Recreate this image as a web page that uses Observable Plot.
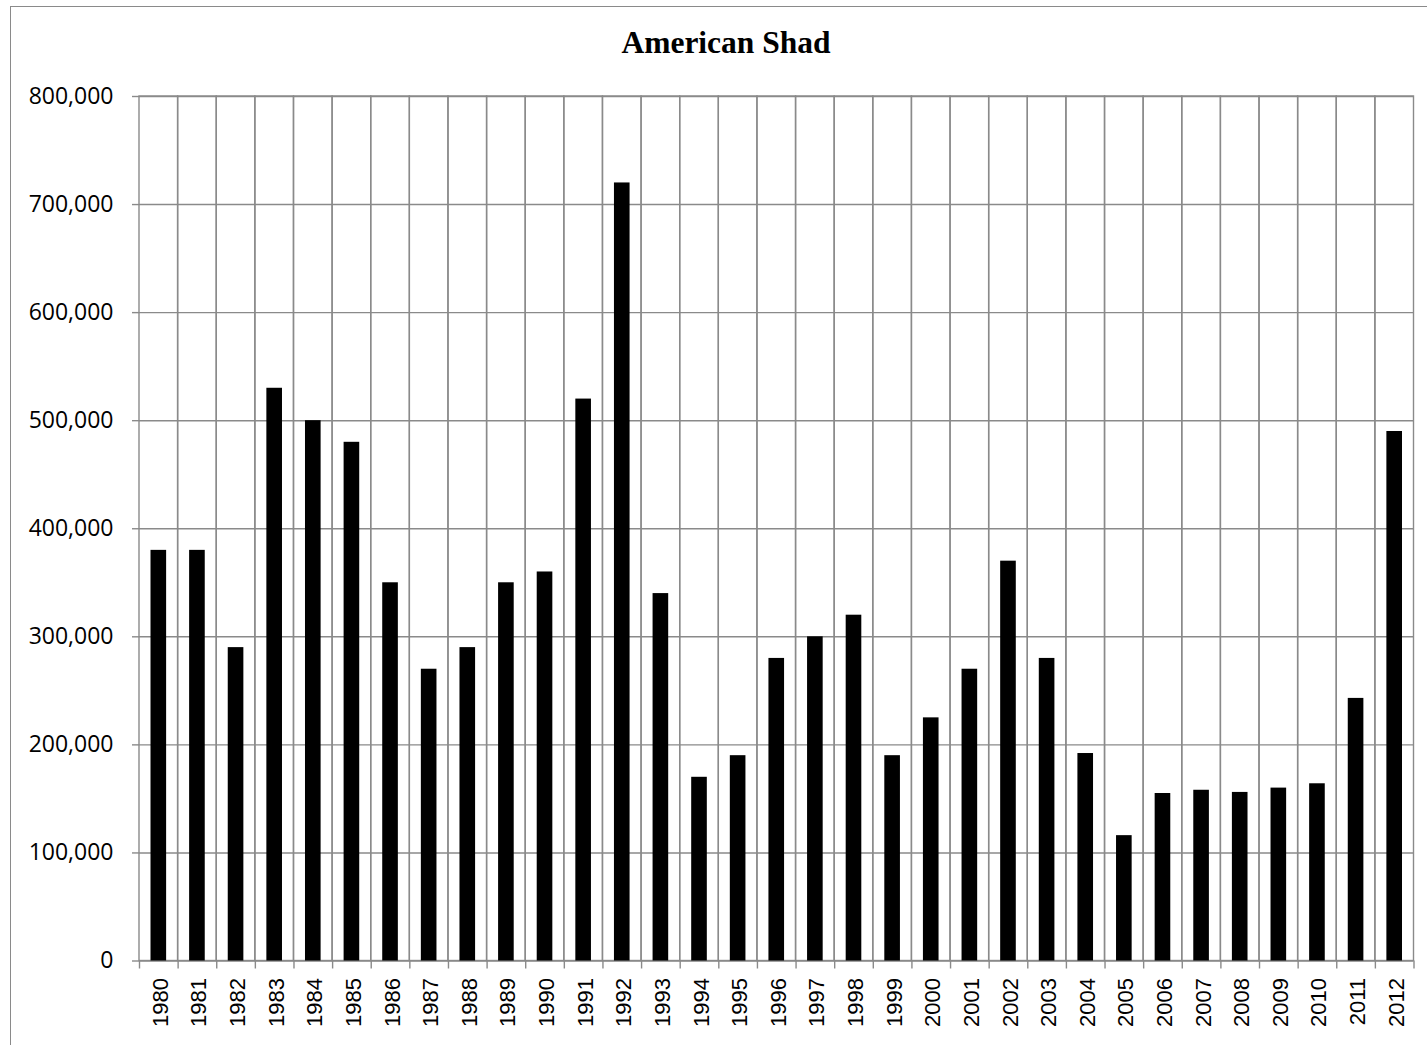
<!DOCTYPE html>
<html>
<head>
<meta charset="utf-8">
<script src="https://cdn.jsdelivr.net/npm/d3@7"></script>
<script src="https://cdn.jsdelivr.net/npm/@observablehq/plot@0.6"></script>
<style>
  html, body { margin: 0; padding: 0; background: #fff; overflow: hidden; }
  #wrap { position: relative; width: 1427px; height: 1045px; overflow: hidden; }
  #border { position: absolute; left: 10px; top: 6px; width: 3000px; height: 3000px;
            border-left: 1.5px solid #8a8a8a; border-top: 1.5px solid #8a8a8a; }
  #title { position: absolute; left: 0; top: 25px; width: 1452px; text-align: center;
           font-family: "Liberation Serif", "Times New Roman", serif; font-weight: bold;
           font-size: 31.5px; line-height: 36px; color: #000; }
  #chart { position: absolute; left: 0; top: 0; }
</style>
</head>
<body>
<div id="wrap">
  <div id="border"></div>
  <div id="title">American Shad</div>
  <div id="chart"></div>
</div>
<script>
const years = ["1980","1981","1982","1983","1984","1985","1986","1987","1988","1989","1990",
  "1991","1992","1993","1994","1995","1996","1997","1998","1999","2000","2001","2002","2003",
  "2004","2005","2006","2007","2008","2009","2010","2011","2012"];
const values = [380000,380000,290000,530000,500000,480000,350000,270000,290000,350000,360000,
  520000,720000,340000,170000,190000,280000,300000,320000,190000,225000,270000,370000,280000,
  192000,116000,155000,158000,156000,160000,164000,243000,490000];
const yTicks = [0,100000,200000,300000,400000,500000,600000,700000,800000];
const yMax = 800000;

const data = years.map((y, i) => ({year: y, value: values[i]}));

const W = 1427, H = 1045, mL = 139, mR = 13.5, mT = 96, mB = 84.5;
const bw = (W - mL - mR) / years.length;
const grid = "#8a8a8a";

const chart = Plot.plot({
  width: W, height: H,
  marginLeft: mL, marginRight: mR, marginTop: mT, marginBottom: mB,
  style: {background: "transparent", color: "#000"},
  x: {type: "band", domain: years, padding: 0, round: false, axis: null, label: null},
  y: {domain: [0, yMax], axis: null, label: null},
  marks: [
    // horizontal gridlines
    Plot.ruleY(yTicks, {y: d => d, stroke: grid, strokeWidth: 1.4, strokeOpacity: 1}),
    // vertical gridlines at category boundaries (cell outlines)
    Plot.barY(years, {x: d => d, y1: () => 0, y2: () => yMax, fill: "none", stroke: grid, strokeWidth: 1.4}),
    // y axis ticks + labels
    Plot.axisY(yTicks, {tickSize: 7, tickPadding: 19, stroke: grid, strokeWidth: 1.4, label: null,
      tickFormat: d3.format(","), fontSize: 23, fontFamily: "'Open Sans', sans-serif", fill: "#000"}),
    // x axis boundary ticks
    Plot.axisX(years, {tickSize: 8, tickFormat: () => "", dx: -bw / 2, stroke: grid, strokeWidth: 1.4, label: null}),
    Plot.axisX([years[years.length - 1]], {tickSize: 8, tickFormat: () => "", dx: bw / 2, stroke: grid, strokeWidth: 1.4, label: null}),
    // x labels
    Plot.axisX(years, {tickSize: 0, tickPadding: 17, tickRotate: -90, dx: 2, label: null,
      fontSize: 22, fontFamily: "'Liberation Sans', Arial, sans-serif", fill: "#000"}),
    // bars
    Plot.barY(data, {x: "year", y: "value", fill: "#000", insetLeft: 11.5, insetRight: 11.5})
  ]
});
document.getElementById("chart").appendChild(chart);
</script>
</body>
</html>
